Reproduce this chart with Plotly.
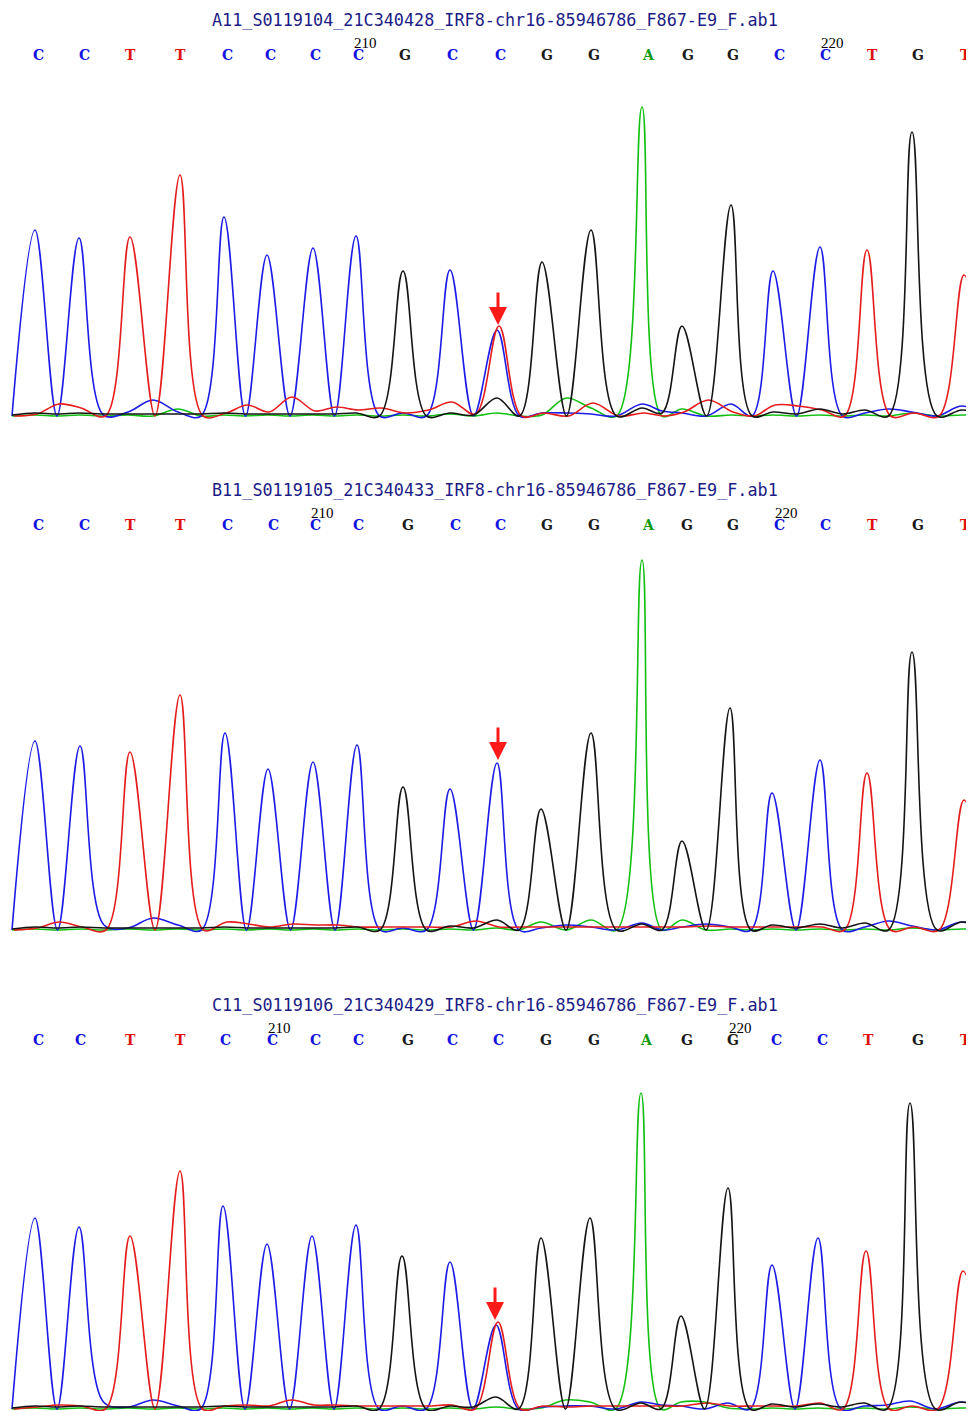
import plotly.graph_objects as go

# The page body adds an 8 px margin; geometry below is in screen pixels of the 974x1411 window.
OFF = 8
WIN_W, WIN_H = 974, 1411
W, H = WIN_W - OFF, WIN_H - OFF

TITLES = [
    "A11_S0119104_21C340428_IRF8-chr16-85946786_F867-E9_F.ab1",
    "B11_S0119105_21C340433_IRF8-chr16-85946786_F867-E9_F.ab1",
    "C11_S0119106_21C340429_IRF8-chr16-85946786_F867-E9_F.ab1",
]
BASES = list("CCTTCCCCGCCGGAGGCCTGT")
TICKS = [(7, 17), (6, 16), (5, 15)]  # base index carrying "210" and "220"
TICK_TEXT = ("210", "220")

# ---- panel 1 ----
P1_POS = [35, 79, 128, 178, 224, 267, 313, 356, 403, 450, 497, 542, 591, 642, 682, 731, 773, 820, 865, 912, 962]
P1_LBL = [38, 84, 130, 180, 227, 270, 315, 358, 405, 452, 500, 547, 594, 648, 688, 733, 779, 825, 872, 918, 965]
P1_A = [1, 1, 1, 7, 1, 1, 1, 1, 1, 2, 3, 1, 8, 309, 7, 1, 1, 1, 1, 3, 1]
P1_A_MID = [0, 0, 0, 0, 0, 0, 0, 0, 0, 0, 0, 0, 18, 0, 0, 0, 0, 0, 0, 0, 0, 0]
P1_C = [186, 178, 4, 4, 199, 161, 168, 180, 3, 146, 86, 3, 2, 12, 3, 12, 145, 169, 3, 4, 10]
P1_C_MID = [0, 0, 1, 16, 0, 0, 0, 0, 0, 0, 0, 0, 3, 0, 5, 0, 0, 0, 0, 7, 0, 0]
P1_G = [3, 3, 2, 2, 3, 2, 2, 3, 145, 3, 18, 154, 186, 8, 90, 211, 4, 7, 6, 284, 6]
P1_G_MID = [1, 2, 2, 2, 2, 2, 2, 2, 0, 0, 1, 0, 0, 0, 3, 0, 0, 2, 2, 0, 0, 0]
P1_T = [2, 8, 179, 241, 3, 4, 5, 6, 3, 14, 90, 3, 13, 3, 4, 4, 11, 6, 166, 3, 141]
P1_T_MID = [0, 12, 0, 0, 0, 11, 19, 9, 8, 6, 2, 0, 0, 0, 0, 16, 0, 10, 0, 0, 0, 0]

# ---- panel 2 ----
P2_POS = [35, 80, 128, 178, 225, 268, 313, 357, 403, 450, 497, 541, 591, 642, 682, 730, 772, 820, 865, 912, 962]
P2_LBL = [38, 84, 130, 180, 227, 273, 315, 358, 408, 455, 500, 547, 594, 648, 687, 733, 779, 825, 872, 918, 965]
P2_A = [1, 1, 1, 1, 1, 1, 1, 1, 1, 1, 2, 8, 10, 370, 10, 1, 1, 1, 1, 2, 1]
P2_A_MID = [0] * 22
P2_C = [189, 184, 2, 5, 197, 161, 168, 185, 2, 141, 167, 2, 3, 7, 3, 3, 137, 170, 3, 4, 8]
P2_C_MID = [0, 0, 5, 12, 0, 0, 0, 0, 0, 0, 0, 0, 5, 0, 0, 6, 0, 0, 0, 9, 0, 0]
P2_G = [3, 3, 2, 2, 3, 2, 2, 3, 143, 4, 10, 121, 197, 6, 89, 222, 5, 6, 7, 278, 8]
P2_G_MID = [1, 2, 2, 2, 2, 2, 2, 2, 0, 0, 2, 0, 0, 0, 0, 0, 0, 2, 2, 0, 0, 0]
P2_T = [2, 3, 178, 235, 8, 3, 5, 3, 3, 3, 3, 3, 3, 3, 3, 3, 3, 3, 157, 3, 130]
P2_T_MID = [0, 8, 0, 0, 0, 6, 6, 5, 3, 3, 9, 3, 3, 3, 3, 4, 3, 3, 0, 0, 0, 0]

# ---- panel 3 ----
P3_POS = [35, 79, 128, 178, 223, 267, 312, 356, 402, 450, 496, 541, 590, 641, 681, 728, 772, 818, 864, 910, 961]
P3_LBL = [38, 80, 130, 180, 225, 272, 315, 358, 408, 452, 498, 546, 594, 646, 687, 733, 776, 822, 868, 918, 965]
P3_A = [1, 1, 1, 1, 1, 1, 1, 1, 1, 1, 2, 1, 7, 316, 7, 1, 1, 1, 1, 2, 1]
P3_A_MID = [0, 0, 0, 0, 0, 0, 0, 0, 0, 0, 0, 0, 9, 0, 0, 7, 0, 0, 0, 0, 0, 0]
P3_C = [191, 182, 2, 3, 203, 165, 173, 184, 3, 147, 84, 2, 3, 7, 3, 6, 144, 171, 3, 8, 7]
P3_C_MID = [0, 0, 7, 9, 0, 0, 0, 0, 0, 0, 0, 0, 3, 0, 4, 0, 0, 0, 0, 4, 0, 0]
P3_G = [3, 3, 2, 2, 3, 2, 2, 3, 153, 3, 12, 171, 191, 6, 93, 221, 5, 5, 6, 306, 7]
P3_G_MID = [1, 2, 2, 2, 2, 2, 2, 2, 0, 0, 2, 0, 0, 0, 0, 0, 0, 2, 2, 0, 0, 0]
P3_T = [2, 3, 173, 238, 3, 3, 4, 3, 3, 4, 87, 3, 3, 3, 3, 3, 3, 6, 158, 3, 138]
P3_T_MID = [0, 4, 0, 0, 0, 4, 9, 4, 3, 3, 0, 0, 2, 3, 3, 6, 3, 3, 0, 0, 0, 0]

# mutation (arrow) positions: x, signal at tip
ARROWS = [(498, 91), (498, 170), (495, 89)]

PANELS = [
    dict(pos=P1_POS, lbl=P1_LBL, A=(P1_A, P1_A_MID), C=(P1_C, P1_C_MID), G=(P1_G, P1_G_MID), T=(P1_T, P1_T_MID)),
    dict(pos=P2_POS, lbl=P2_LBL, A=(P2_A, P2_A_MID), C=(P2_C, P2_C_MID), G=(P2_G, P2_G_MID), T=(P2_T, P2_T_MID)),
    dict(pos=P3_POS, lbl=P3_LBL, A=(P3_A, P3_A_MID), C=(P3_C, P3_C_MID), G=(P3_G, P3_G_MID), T=(P3_T, P3_T_MID)),
]

# ---- styling / layout (screen-pixel geometry) ----
TRACE_COL = {"A": "#12c012", "C": "#1c1ce6", "G": "#141414", "T": "#e41c1c"}
LETTER_COL = {"A": "#109a10", "C": "#1414e0", "G": "#1a1a1a", "T": "#e01010"}
CH_SHIFT = {"A": 0, "C": 0, "G": 0, "T": 2}
DRAW_ORDER = ["A", "C", "T", "G"]
TITLE_PX = [20, 490, 1005]
LETTER_PX = [55, 525, 1040]
TICK_PX = [43, 513, 1028]
PLOT_PX = [(95, 420), (550, 934), (1080, 1411)]   # (top, bottom) screen pixel of plot area
YRANGE = [(-4, 321), (-4, 380), (-2, 329)]


def paper_y(px):
    return 1 - (px - OFF) / H


def build(pos, vals, mids, shift):
    xs = [pos[0] - 23 + shift]
    ys = [mids[0]]
    for i, p in enumerate(pos):
        xs.append(p + shift)
        ys.append(vals[i])
        if i < len(pos) - 1:
            xs.append((p + pos[i + 1]) / 2 + shift)
            ys.append(mids[i + 1])
    xs.append(pos[-1] + 25 + shift)
    ys.append(mids[-1])
    return xs, ys


fig = go.Figure()
annotations = []
layout_axes = {}

for k, pan in enumerate(PANELS):
    sfx = "" if k == 0 else str(k + 1)
    for ch in DRAW_ORDER:
        vals, mids = pan[ch]
        xs, ys = build(pan["pos"], vals, mids, CH_SHIFT[ch])
        fig.add_trace(go.Scatter(
            x=xs, y=ys, mode="lines",
            line=dict(color=TRACE_COL[ch], width=1.6, shape="spline", smoothing=1.0),
            xaxis="x" + sfx, yaxis="y" + sfx, hoverinfo="skip", showlegend=False,
        ))
    top, bot = PLOT_PX[k]
    layout_axes["xaxis" + sfx] = dict(domain=[0, 1], range=[OFF, WIN_W], visible=False, fixedrange=True,
                                      anchor="y" + sfx)
    layout_axes["yaxis" + sfx] = dict(domain=[max(0, paper_y(bot)), paper_y(top)], range=list(YRANGE[k]),
                                      visible=False, fixedrange=True, anchor="x" + sfx)

    # title
    annotations.append(dict(
        text=TITLES[k], x=495, xref="x" + sfx, y=paper_y(TITLE_PX[k]), yref="paper",
        showarrow=False, xanchor="center", yanchor="middle",
        font=dict(family="DejaVu Sans Mono", size=16.8, color="#1c1c86"),
    ))
    # base calls
    for i, b in enumerate(BASES):
        annotations.append(dict(
            text="<b>" + b + "</b>", x=pan["lbl"][i], xref="x" + sfx, y=paper_y(LETTER_PX[k]), yref="paper",
            showarrow=False, xanchor="center", yanchor="middle",
            font=dict(family="DejaVu Serif", size=14, color=LETTER_COL[b]),
        ))
    # base numbering
    for j, idx in enumerate(TICKS[k]):
        annotations.append(dict(
            text=TICK_TEXT[j], x=pan["lbl"][idx] + 7, xref="x" + sfx, y=paper_y(TICK_PX[k]), yref="paper",
            showarrow=False, xanchor="center", yanchor="middle",
            font=dict(family="Liberation Serif", size=15, color="#000000"),
        ))
    # mutation arrow
    ax_x, ax_y = ARROWS[k]
    annotations.append(dict(
        x=ax_x, y=ax_y, xref="x" + sfx, yref="y" + sfx, text="",
        showarrow=True, ax=0, ay=-34, arrowcolor="#ff1a1a", arrowwidth=3,
        arrowhead=2, arrowsize=1.2, standoff=0,
    ))

fig.update_layout(
    width=W, height=H, margin=dict(l=0, r=0, t=0, b=0),
    paper_bgcolor="white", plot_bgcolor="white",
    showlegend=False, annotations=annotations, **layout_axes,
)

fig.write_html("out.html")
